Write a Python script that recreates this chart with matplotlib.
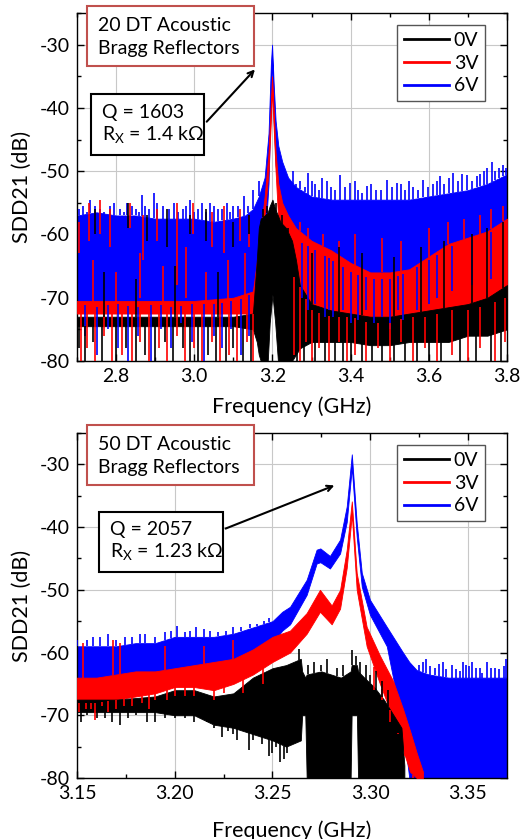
import matplotlib
matplotlib.use('Agg')
import matplotlib.pyplot as plt
from matplotlib.patches import Rectangle
from matplotlib.ticker import MultipleLocator, FormatStrFormatter
import numpy as np

plt.rcParams['font.family'] = ['Lato', 'DejaVu Sans']
plt.rcParams['axes.unicode_minus'] = False
plt.rcParams['mathtext.fontset'] = 'custom'
plt.rcParams['mathtext.rm'] = 'Lato'

W, H = 520, 839

labels = ['0V', '3V', '6V']
colors = ['black', '#ff0000', '#0000ff']

# ---- top panel (20 DT), visible band of each trace: freq, upper, lower (dB)
a_blue_f = [2.70, 2.75, 2.80, 2.85, 2.90, 2.95, 3.00, 3.05, 3.10, 3.13, 3.15, 3.165, 3.18, 3.19, 3.196, 3.199,
            3.203, 3.208, 3.215, 3.225, 3.24, 3.26, 3.30, 3.35, 3.40, 3.45, 3.50, 3.55, 3.60, 3.65, 3.70, 3.75, 3.80]
a_blue_hi = [-57, -56.5, -57, -57, -57.5, -57.5, -57.5, -58, -57.5, -57, -56, -54, -51, -44, -33, -30,
             -36, -42, -46, -48.5, -51, -52.5, -54, -54.5, -54.5, -54.5, -54.5, -54.5, -54, -53.5, -53, -52, -50.5]
a_blue_lo = [-71, -71.5, -71, -71.5, -71, -71.5, -71, -71, -70.5, -70, -69, -68, -62, -52, -38, -32,
             -42, -49, -53, -56, -60, -61, -62, -64, -66, -67, -67, -66, -64, -62, -61, -60, -58]

a_red_f = [2.70, 2.80, 2.90, 3.00, 3.10, 3.15, 3.165, 3.18, 3.19, 3.196, 3.199, 3.203, 3.208, 3.215,
           3.225, 3.24, 3.26, 3.30, 3.35, 3.40, 3.45, 3.50, 3.55, 3.60, 3.65, 3.70, 3.75, 3.80]
a_red_hi = [-70.5, -70.5, -70.5, -70.5, -70, -69, -62, -54, -47, -39, -35, -40, -47, -52,
            -55, -57, -59, -61, -62.5, -64.5, -66, -66, -65.5, -63.5, -61.5, -60.5, -59.5, -57.5]
a_red_lo = [-72.5, -72.5, -72.5, -72.5, -72.5, -72.5, -72, -57, -50, -42, -37, -43, -50, -58,
            -63, -66, -67, -72, -73, -73, -74, -74, -73, -73, -72, -72, -71, -70]

a_blk_f = [2.70, 2.80, 2.90, 3.00, 3.10, 3.15, 3.16, 3.165, 3.17, 3.18, 3.188, 3.193, 3.200, 3.207, 3.214,
           3.22, 3.235, 3.25, 3.26, 3.27, 3.30, 3.35, 3.40, 3.45, 3.50, 3.55, 3.60, 3.65, 3.70, 3.75, 3.80]
a_blk_hi = [-73, -73, -73, -73, -73, -72.5, -64, -59, -57.5, -57, -56.5, -55.5, -54.5, -56, -57,
            -58, -59, -61, -64, -68, -71, -72, -72.5, -73, -73, -72.5, -72, -71.5, -71, -70, -68]
a_blk_lo = [-74.5, -74.5, -74.5, -74.5, -74.5, -75, -77, -79, -80, -80, -80, -74, -69.5, -74, -80,
            -80, -80, -80, -79, -78, -77, -77, -77, -77.5, -77.5, -77, -77, -77, -76, -76, -75]

# noise spikes: freq, extreme value
a_blue_sf = [2.705, 2.715, 2.725, 2.734, 2.745, 2.76, 2.77, 2.785, 2.795, 2.81, 2.82, 2.828, 2.84, 2.85, 2.858,
             2.866, 2.875, 2.885, 2.896, 2.905, 2.92, 2.935, 2.947, 2.958, 2.97, 2.98, 2.99, 3.0, 3.01, 3.02,
             3.03, 3.041, 3.05, 3.06, 3.072, 3.084, 3.092, 3.10, 3.112, 3.126, 3.138, 3.15, 3.165,
             2.72, 2.75, 2.78, 2.805, 2.83, 2.855, 2.89, 2.915, 2.94, 2.965, 2.995, 3.025, 3.05, 3.07, 3.095,
             3.12, 3.14,
             3.253, 3.26, 3.27, 3.282, 3.292, 3.30, 3.31, 3.318, 3.326, 3.34, 3.35, 3.36, 3.373, 3.385, 3.398,
             3.41, 3.42, 3.43, 3.441, 3.453, 3.465, 3.478, 3.492, 3.505, 3.518, 3.53, 3.54, 3.55, 3.56, 3.573,
             3.586, 3.598, 3.61, 3.62, 3.629, 3.64, 3.652, 3.663, 3.675, 3.685, 3.697, 3.71, 3.722, 3.732,
             3.74, 3.75, 3.761, 3.77, 3.78, 3.791, 3.798,
             3.275, 3.29, 3.31, 3.335, 3.345, 3.355, 3.38, 3.40, 3.42, 3.44, 3.46, 3.48, 3.50, 3.52, 3.535,
             3.57, 3.60, 3.62, 3.66, 3.71, 3.76]
a_blue_sv = [-56, -55.5, -56.5, -54.5, -55.5, -56, -56.5, -55.5, -55, -56, -56.5, -55, -55.5, -56, -56.5,
             -53.8, -55.5, -56, -53.4, -55, -55.5, -56, -55, -56.5, -56, -55.5, -54.5, -56.5, -56, -55,
             -56.5, -55, -55.5, -56, -56, -55, -56.5, -55.5, -55.5, -54, -55.5, -53, -51.5,
             -76, -79, -75, -78, -80, -76, -80, -75, -78, -74, -77, -80, -76, -78, -75,
             -79, -76,
             -50, -52, -51.5, -52.5, -50.3, -51.5, -52, -53, -51, -51.5, -52.5, -53, -50.6, -52.5, -51.9,
             -51.5, -53, -53.5, -52.4, -52, -53, -53, -51.4, -52.5, -51.9, -52, -53, -51.5, -52.5, -53,
             -51.4, -52.5, -52, -51.5, -50.8, -52, -51, -50.3, -51.5, -50.5, -50.6, -51.5, -50.8, -50.5,
             -50, -49.5, -48.5, -50, -49.5, -49, -49.5,
             -70, -72, -71, -73, -72, -73, -72, -74, -73.5, -72, -74, -73, -75, -72, -73.5,
             -72, -71, -70, -69, -68, -67]

a_red_sf = [2.71, 2.725, 2.745, 2.77, 2.79, 2.815, 2.84, 2.86, 2.885, 2.91, 2.93, 2.955, 2.975, 3.00,
            3.02, 3.045, 3.065, 3.09, 3.11, 3.135, 3.15,
            3.27, 3.29, 3.33, 3.37, 3.41, 3.48, 3.53, 3.60, 3.65, 3.69, 3.73, 3.76, 3.79,
            3.255, 3.27, 3.285, 3.30, 3.32, 3.345, 3.37, 3.39, 3.41, 3.44, 3.47, 3.50, 3.53, 3.56,
            3.59, 3.62, 3.66, 3.70, 3.73, 3.77, 3.795]
a_red_sv = [-80, -78, -80, -76, -80, -79, -80, -77, -80, -78, -80, -76, -80, -78,
            -80, -77, -80, -79, -80, -77, -80,
            -58, -59, -60, -61, -60, -60.5, -61, -59, -58, -57.5, -57, -56, -55.5,
            -79, -80, -77, -80, -78, -80, -77, -80, -79, -80, -78, -80, -77, -80,
            -78, -80, -79, -80, -78, -80, -77]

a_blk_sf = [2.705, 2.72, 2.74, 2.765, 2.80, 2.825, 2.85, 2.875, 2.90, 2.925, 2.945, 2.97, 2.99, 3.01,
            3.035, 3.055, 3.08, 3.10, 3.125, 3.145,
            3.175, 3.185, 3.21, 3.225, 3.24,
            3.30, 3.37, 3.43, 3.51, 3.58, 3.64, 3.71, 3.75, 3.79,
            3.262, 3.28, 3.31, 3.335, 3.36, 3.38, 3.40, 3.43, 3.455, 3.48, 3.51, 3.54, 3.57, 3.60,
            3.63, 3.68, 3.72, 3.76, 3.785]
a_blk_sv = [-78, -80, -77, -80, -80, -78, -80, -79, -80, -77, -80, -78, -80, -80,
            -79, -80, -80, -78, -80, -80,
            -56, -55.5, -55, -57, -59,
            -63, -62, -63, -63.5, -62, -61, -60, -59, -58,
            -80, -80, -80, -80, -80, -80, -80, -80, -80, -80, -80, -80, -80, -80,
            -80, -80, -80, -80, -80]

# short red / black streaks seen inside the blue band (freq, top, bottom)
a_red_tf = [2.705, 2.73, 2.759, 2.785, 2.836, 2.87, 2.905, 2.956, 2.998, 3.045, 3.075, 3.118, 3.14,
            2.74, 2.80, 2.86, 2.92, 2.98, 3.03, 3.085, 3.13]
a_red_ttop = [-58, -55, -54.5, -56, -55, -57, -56, -55, -55, -56.5, -55.5, -56, -57,
              -64, -66, -63, -65, -62, -66, -64, -63]
a_red_tbot = [-63, -61, -60, -62, -59, -64, -61, -68, -60, -62, -63, -61, -62,
              -71, -71, -70, -71, -70, -71, -71, -70]

a_blk_tf = [2.745, 2.83, 2.88, 2.93, 2.99, 3.03, 3.10, 3.14, 2.77, 2.85, 2.95, 3.06]
a_blk_ttop = [-56, -55, -57, -56, -57, -56, -58, -57, -66, -67, -65, -66]
a_blk_tbot = [-60, -59, -61, -62, -60, -61, -62, -60, -73, -73, -73, -73]

# ---- bottom panel (50 DT)
b_blue_f = [3.150, 3.160, 3.170, 3.180, 3.190, 3.200, 3.210, 3.220, 3.230, 3.240, 3.250, 3.255, 3.259,
            3.2675, 3.2726, 3.2745, 3.2794, 3.2846, 3.288, 3.2906, 3.2931, 3.2957, 3.2999, 3.3085,
            3.3168, 3.3200, 3.3238, 3.330, 3.340, 3.350, 3.360, 3.370]
b_blue_hi = [-59, -59, -59, -58.5, -58.5, -57.5, -57.5, -57.5, -57, -56, -55, -53.5, -52.7,
             -48.4, -43.6, -43.4, -44.6, -42, -36.7, -28.4, -39.3, -47.3, -51.6, -55.9,
             -60, -61.5, -62.8, -63.5, -64, -64, -64, -64]
b_blue_lo = [-64.5, -64.5, -64, -63.5, -63.5, -63, -62.5, -62.5, -62, -60.5, -58.5, -56.5, -55.5,
             -50.8, -45.8, -45.6, -46.6, -44.2, -39.2, -30.5, -41.5, -49.5, -54, -59,
             -72, -80, -80, -80, -80, -80, -80, -80]

b_red_f = [3.150, 3.160, 3.170, 3.180, 3.190, 3.200, 3.210, 3.220, 3.230, 3.240, 3.250, 3.259, 3.2675,
           3.2743, 3.2803, 3.2846, 3.288, 3.2906, 3.2931, 3.2982, 3.305, 3.3117, 3.3168, 3.3204, 3.3238, 3.327]
b_red_hi = [-64, -64, -63.5, -63, -63, -62.5, -62, -61.5, -61, -59.5, -57.5, -56.5, -53.7,
            -50, -52.5, -50, -43.6, -35.9, -47.3, -55.9, -60.5, -64.5, -69, -72.5, -76, -79]
b_red_lo = [-68, -68, -67.5, -67, -66.5, -65.5, -65.5, -66, -65, -63.5, -61.5, -60, -57,
            -53.5, -55.5, -53, -46.5, -38, -50, -59, -65, -70.5, -75.5, -79, -80, -80]

b_blk_f = [3.150, 3.170, 3.190, 3.200, 3.210, 3.220, 3.230, 3.240, 3.250, 3.257, 3.2645, 3.2652, 3.2668,
           3.2675, 3.275, 3.280, 3.285, 3.2900, 3.2905, 3.2932, 3.2938, 3.297, 3.302, 3.307, 3.312, 3.316, 3.3175]
b_blk_hi = [-67.5, -67.5, -67, -66, -66, -67, -66.5, -64, -62.5, -62, -61, -63, -64,
            -63.5, -63, -63.5, -64, -63, -62, -62, -63, -64, -65.5, -67.5, -70, -72, -78]
b_blk_lo = [-69.5, -69.5, -69.5, -70, -70, -71.5, -72, -73, -74, -75, -74, -70, -70,
            -80, -80, -80, -80, -80, -70, -70, -80, -80, -80, -80, -80, -80, -80]

b_blue_sf = [3.15, 3.155, 3.158, 3.162, 3.166, 3.17, 3.1747, 3.178, 3.182, 3.185, 3.19, 3.195, 3.198,
             3.2012, 3.205, 3.208, 3.211, 3.2148, 3.218, 3.222, 3.226, 3.23, 3.234, 3.2387, 3.242,
             3.2455, 3.248,
             3.325, 3.327, 3.3285, 3.3306, 3.333, 3.335, 3.337, 3.339, 3.342, 3.344, 3.346, 3.3475,
             3.349, 3.3506, 3.352, 3.354, 3.356, 3.3574, 3.36, 3.362, 3.364, 3.366, 3.3685, 3.3695]
b_blue_sv = [-58, -58, -57.5, -57.5, -57, -58, -57.5, -57.5, -57, -57, -57.5, -56.8, -56.5,
             -55.8, -56.8, -56.5, -56, -56.3, -56.5, -56.8, -56.5, -56, -56, -55.5, -55.5,
             -55, -54.5,
             -62, -61.5, -61, -62.2, -62.5, -61.8, -61.5, -62.7, -62, -62.7, -63, -61.5,
             -62, -62.2, -61.5, -62.5, -62.5, -63.2, -61.5, -62.5, -62.5, -62.7, -62.2, -61]

b_red_sf = [3.151, 3.1545, 3.157, 3.159, 3.163, 3.166, 3.17, 3.174, 3.178, 3.183, 3.187, 3.19, 3.196,
            3.2, 3.205, 3.21, 3.22, 3.225, 3.235, 3.245,
            3.153, 3.1685, 3.172, 3.195, 3.215, 3.23,
            3.302, 3.306, 3.31, 3.314, 3.318, 3.322]
b_red_sv = [-69.5, -69, -69, -70.7, -68.5, -69.5, -69, -68.5, -68.5, -68, -69, -67.5, -67.5,
            -67, -67, -67, -67.5, -66.5, -66.5, -65,
            -58.5, -58, -58.5, -59, -59, -58,
            -66, -67.5, -71, -73, -76.5, -80]

b_blk_sf = [3.152, 3.155, 3.16, 3.1645, 3.168, 3.1722, 3.176, 3.18, 3.1858, 3.19, 3.195, 3.2, 3.205,
            3.21, 3.2165, 3.22, 3.2242, 3.227, 3.23, 3.232, 3.235, 3.238, 3.24, 3.243, 3.2447, 3.248,
            3.25, 3.252, 3.254, 3.256, 3.2575,
            3.2635, 3.268, 3.271, 3.275, 3.278, 3.283, 3.286, 3.2906, 3.2925, 3.295, 3.298, 3.30,
            3.303, 3.306, 3.309]
b_blk_sv = [-71, -70, -70.5, -70.5, -71, -71.5, -70.5, -70, -71, -71, -70.5, -70.5, -70.5,
            -71, -71, -72, -73.5, -72.5, -73, -74, -72.5, -75.5, -74, -73, -74.5, -76.5,
            -76, -75, -77.5, -77, -76,
            -59.5, -62, -61.5, -62, -61, -62.5, -62, -59.6, -60.5, -61.5, -62, -63.5,
            -63, -64.5, -66]


def draw_trace(ax, f, hi, lo, sf, sv, color, z):
    ax.fill_between(f, lo, hi, color=color, lw=0.6, zorder=z)
    sv = np.asarray(sv, dtype=float)
    top = np.interp(sf, f, hi)
    bot = np.interp(sf, f, lo)
    base = np.where(sv > top, top, np.where(sv < bot, bot, (top + bot) / 2))
    ax.vlines(sf, base, sv, color=color, lw=1.2, zorder=5 + z / 10)


def style_axes(ax, xlim, xmaj, xmin, xfmt, xpad):
    ax.set_xlim(*xlim)
    ax.set_ylim(-80, -25)
    ax.xaxis.set_major_locator(MultipleLocator(xmaj))
    ax.xaxis.set_minor_locator(MultipleLocator(xmin))
    ax.xaxis.set_major_formatter(FormatStrFormatter(xfmt))
    ax.yaxis.set_major_locator(MultipleLocator(10))
    ax.yaxis.set_minor_locator(MultipleLocator(5))
    ax.tick_params(which='both', direction='in', top=True, right=True, width=1, labelsize=14)
    ax.tick_params(which='major', length=5, pad=5)
    ax.tick_params(which='minor', length=3)
    ax.grid(True, which='major', color='#c8c8c8', lw=0.8)
    ax.set_axisbelow(True)
    for s in ax.spines.values():
        s.set_linewidth(1)
    ax.set_xlabel('Frequency (GHz)', fontsize=15.5, labelpad=xpad)
    ax.set_ylabel('SDD21 (dB)', fontsize=15.5, labelpad=6)
    for c, lab in zip(colors, labels):
        ax.plot([], [], color=c, lw=2, label=lab)
    leg = ax.legend(loc='upper right', fontsize=14, handlelength=2.3, handletextpad=0.25,
                    borderpad=0.35, labelspacing=0.3, fancybox=False, framealpha=1,
                    borderaxespad=0, bbox_to_anchor=(0.949, 0.9655))
    leg.get_frame().set_edgecolor('#555555')
    leg.get_frame().set_linewidth(1)
    leg.set_zorder(20)


def fx(x):
    return x / W


def fy(y):
    return 1 - y / H


def box(fig, x0, y0, x1, y1, ec):
    fig.add_artist(Rectangle((fx(x0), fy(y1)), fx(x1) - fx(x0), (y1 - y0) / H,
                             transform=fig.transFigure, fc='white', ec=ec, lw=1.5, zorder=30))


def main():
    fig = plt.figure(figsize=(W / 100, H / 100), dpi=100)
    ax1 = fig.add_axes([fx(77), fy(361), fx(507) - fx(77), (361 - 13) / H])
    ax2 = fig.add_axes([fx(77), fy(778), fx(507) - fx(77), (778 - 433) / H])

    draw_trace(ax1, a_blue_f, a_blue_hi, a_blue_lo, a_blue_sf, a_blue_sv, colors[2], 2)
    draw_trace(ax1, a_red_f, a_red_hi, a_red_lo, a_red_sf, a_red_sv, colors[1], 3)
    draw_trace(ax1, a_blk_f, a_blk_hi, a_blk_lo, a_blk_sf, a_blk_sv, colors[0], 4)
    ax1.vlines(a_red_tf, a_red_tbot, a_red_ttop, color=colors[1], lw=1.2, zorder=5.3)
    ax1.vlines(a_blk_tf, a_blk_tbot, a_blk_ttop, color=colors[0], lw=1.2, zorder=5.4)
    style_axes(ax1, (2.7, 3.8), 0.2, 0.1, '%.1f', 8)

    draw_trace(ax2, b_blue_f, b_blue_hi, b_blue_lo, b_blue_sf, b_blue_sv, colors[2], 2)
    draw_trace(ax2, b_red_f, b_red_hi, b_red_lo, b_red_sf, b_red_sv, colors[1], 3)
    draw_trace(ax2, b_blk_f, b_blk_hi, b_blk_lo, b_blk_sf, b_blk_sv, colors[0], 4)
    style_axes(ax2, (3.15, 3.37), 0.05, 0.025, '%.2f', 13)

    ax1.annotate('', xy=(3.160, -33.6), xytext=(3.027, -42.5),
                 arrowprops=dict(arrowstyle='->', color='black', lw=1.5), zorder=25)
    ax2.annotate('', xy=(3.283, -33.2), xytext=(3.2247, -40.4),
                 arrowprops=dict(arrowstyle='->', color='black', lw=1.5), zorder=25)

    # annotation boxes
    box(fig, 87, 6, 254, 66, '#c0504d')
    fig.text(fx(98), fy(37), '20 DT Acoustic\nBragg Reflectors', fontsize=14,
             va='center', ha='left', linespacing=1.4, zorder=31)
    box(fig, 91, 94, 204, 155, 'black')
    fig.text(fx(102), fy(125), 'Q = 1603\nR$_\\mathregular{X}$ = 1.4 k\u03a9', fontsize=14,
             va='center', ha='left', linespacing=1.2, zorder=31)

    box(fig, 87, 425, 254, 485, '#c0504d')
    fig.text(fx(98), fy(456), '50 DT Acoustic\nBragg Reflectors', fontsize=14,
             va='center', ha='left', linespacing=1.4, zorder=31)
    box(fig, 99, 512, 223, 572, 'black')
    fig.text(fx(110), fy(542), 'Q = 2057\nR$_\\mathregular{X}$ = 1.23 k\u03a9', fontsize=14,
             va='center', ha='left', linespacing=1.2, zorder=31)

    fig.savefig('out.png', dpi=100)


if __name__ == '__main__':
    main()
